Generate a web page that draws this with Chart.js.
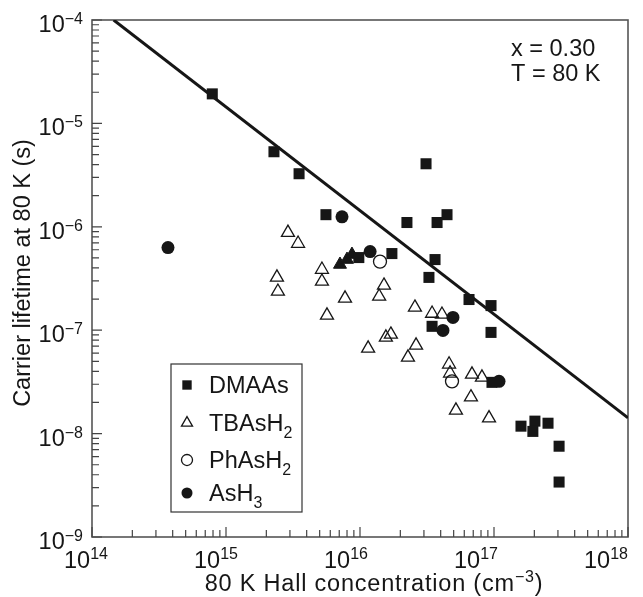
<!DOCTYPE html>
<html lang="en">
<head>
    <meta charset="UTF-8">
    <title>Carrier lifetime vs Hall concentration</title>
    <style>
        * { box-sizing: border-box; margin: 0; padding: 0; }
        body { background: #fff; width: 643px; height: 597px; overflow: hidden; }
        #wrap { position: relative; width: 643px; height: 597px; }
    </style>
    <script src="https://cdn.jsdelivr.net/npm/chart.js"></script>
</head>
<body>
    <div id="wrap"><canvas id="chart" width="643" height="597"></canvas></div>

    <script>
        // values (x: cm^-3, y: seconds)
        const dmaasX = [7.9e14, 2.28e15, 3.51e15, 5.57e15, 9.8e15, 1.73e16, 2.24e16, 3.11e16, 3.76e16, 4.46e16, 3.63e16, 3.27e16,
                        6.51e16, 9.5e16, 3.45e16, 9.5e16, 9.66e16, 1.59e17, 2.02e17, 1.95e17, 2.53e17, 3.06e17, 3.06e17];
        const dmaasY = [1.93e-5, 5.32e-6, 3.26e-6, 1.31e-6, 5.04e-7, 5.51e-7, 1.10e-6, 4.07e-6, 1.10e-6, 1.31e-6, 4.82e-7, 3.24e-7,
                        1.98e-7, 1.73e-7, 1.09e-7, 9.52e-8, 3.13e-8, 1.18e-8, 1.32e-8, 1.05e-8, 1.26e-8, 7.55e-9, 3.4e-9];

        const tbaX = [2.40e15, 2.44e15, 2.90e15, 3.45e15, 5.20e15, 5.20e15, 5.67e15, 7.73e15, 1.15e16, 1.39e16, 1.51e16, 1.56e16, 1.70e16,
                      2.28e16, 2.57e16, 2.62e16, 3.45e16, 4.09e16, 4.62e16, 4.70e16, 5.20e16, 6.73e16, 6.85e16, 8.13e16, 9.18e16];
        const tbaY = [3.24e-7, 2.37e-7, 8.79e-7, 6.89e-7, 3.86e-7, 2.96e-7, 1.39e-7, 2.03e-7, 6.68e-8, 2.12e-7, 2.71e-7, 8.53e-8, 9.10e-8,
                      5.46e-8, 1.66e-7, 7.13e-8, 1.45e-7, 1.42e-7, 4.68e-8, 3.83e-8, 1.68e-8, 2.25e-8, 3.74e-8, 3.50e-8, 1.41e-8];

        const phX = [1.41e16, 4.86e16];
        const phY = [4.61e-7, 3.20e-8];

        const ash3X = [3.69e14, 7.34e15, 1.19e16, 4.94e16, 4.16e16, 1.09e17];
        const ash3Y = [6.30e-7, 1.25e-6, 5.76e-7, 1.33e-7, 9.95e-8, 3.20e-8];

        // filled triangles (not in the legend)
        const solidTriX = [7.09e15, 8.0e15, 8.71e15];
        const solidTriY = [4.32e-7, 4.82e-7, 5.39e-7];

        // fitted line end points
        const fitX = [1.45e14, 1e18];
        const fitY = [1.0e-4, 1.42e-8];

        const xDecades = [14, 15, 16, 17, 18];
        const yDecades = [-4, -5, -6, -7, -8, -9];

        const legendNames = [['DMAAs', ''], ['TBAsH', '2'], ['PhAsH', '2'], ['AsH', '3']];
        const noteLines = ['x = 0.30', 'T = 80 K'];

        const INK = '#161616';
        const FONT = 'Liberation Sans, Arial, sans-serif';
        const BIG = 23.5;
        const SMALL = 16;

        const pts = (xs, ys) => xs.map((x, i) => ({ x: x, y: ys[i] }));

        // text with a raised or lowered small part
        function drawScript(ctx, x, y, base, script, shift, align, tail, spacing) {
            ctx.letterSpacing = spacing || '0px';
            ctx.font = BIG + 'px ' + FONT;
            const wb = ctx.measureText(base).width;
            const wt = tail ? ctx.measureText(tail).width : 0;
            ctx.font = SMALL + 'px ' + FONT;
            const ws = ctx.measureText(script).width;
            const total = wb + ws + wt;
            let x0 = x;
            if (align === 'right') x0 = x - total;
            else if (align === 'center') x0 = x - total / 2;
            ctx.textAlign = 'left';
            ctx.textBaseline = 'alphabetic';
            ctx.font = BIG + 'px ' + FONT;
            ctx.fillText(base, x0, y);
            ctx.font = SMALL + 'px ' + FONT;
            ctx.fillText(script, x0 + wb, y + shift);
            if (tail) {
                ctx.font = BIG + 'px ' + FONT;
                ctx.fillText(tail, x0 + wb + ws, y);
            }
            ctx.letterSpacing = '0px';
        }

        const decorPlugin = {
            id: 'decor',
            beforeDatasetsDraw(chart) {
                const ctx = chart.ctx;
                const a = chart.chartArea;
                const xs = chart.scales.x, ys = chart.scales.y;
                ctx.save();
                ctx.fillStyle = INK;

                // frame
                ctx.strokeStyle = '#555';
                ctx.lineWidth = 1.6;
                ctx.strokeRect(a.left, a.top, a.right - a.left, a.bottom - a.top);

                // inward ticks on left and bottom
                ctx.strokeStyle = '#444';
                ctx.lineWidth = 1.2;
                ctx.beginPath();
                for (let i = 0; i < xDecades.length; i++) {
                    const d = xDecades[i];
                    for (let m = 1; m <= 9; m++) {
                        if (m > 1 && d === 18) break;
                        const px = xs.getPixelForValue(m * Math.pow(10, d));
                        const len = m === 1 ? 10 : 7;
                        ctx.moveTo(px, a.bottom);
                        ctx.lineTo(px, a.bottom - len);
                    }
                }
                for (let i = 0; i < yDecades.length; i++) {
                    const d = yDecades[i];
                    for (let m = 1; m <= 9; m++) {
                        if (m > 1 && d === -4) break;
                        const py = ys.getPixelForValue(m * Math.pow(10, d));
                        const len = m === 1 ? 10 : 7;
                        ctx.moveTo(a.left, py);
                        ctx.lineTo(a.left + len, py);
                    }
                }
                ctx.stroke();

                // tick labels
                xDecades.forEach((d, i) => {
                    const px = xs.getPixelForValue(Math.pow(10, d));
                    drawScript(ctx, px - 6 - i * 4, a.bottom + 31, '10', String(d), -9, 'center');
                });
                yDecades.forEach(d => {
                    const py = ys.getPixelForValue(Math.pow(10, d));
                    drawScript(ctx, a.left - 9, py + 12, '10', '\u2212' + Math.abs(d), -8, 'right');
                });

                // axis titles
                drawScript(ctx, 374, 591, '80 K Hall concentration (cm', '\u22123', -9, 'center', ')', '0.8px');
                ctx.save();
                ctx.translate(30, 273);
                ctx.rotate(-Math.PI / 2);
                ctx.font = BIG + 'px ' + FONT;
                ctx.textAlign = 'center';
                ctx.fillText('Carrier lifetime at 80 K (s)', 0, 0);
                ctx.restore();

                // note in the top right corner
                ctx.font = BIG + 'px ' + FONT;
                ctx.textAlign = 'left';
                noteLines.forEach((t, i) => ctx.fillText(t, 511, 56 + i * 25));
                ctx.restore();
            },
            afterDatasetsDraw(chart) {
                const ctx = chart.ctx;
                ctx.save();
                // legend box
                ctx.fillStyle = '#fff';
                ctx.fillRect(171, 364, 131, 148);
                ctx.strokeStyle = '#333';
                ctx.lineWidth = 1.2;
                ctx.strokeRect(171, 364, 131, 148);
                const rows = [385, 423, 460, 493];
                const sets = chart.data.datasets;
                legendNames.forEach((n, i) => {
                    const ds = sets[i];
                    ctx.fillStyle = ds.backgroundColor;
                    ctx.strokeStyle = ds.borderColor;
                    ctx.lineWidth = ds.borderWidth;
                    Chart.helpers.drawPoint(ctx, {
                        pointStyle: ds.pointStyle,
                        radius: ds.pointRadius * 0.85,
                        borderWidth: ds.borderWidth,
                        rotation: 0
                    }, 187, rows[i]);
                    ctx.fillStyle = INK;
                    drawScript(ctx, 209, rows[i] + 8, n[0], n[1], 7, 'left');
                });
                ctx.restore();
            }
        };

        const ctx = document.getElementById('chart').getContext('2d');
        new Chart(ctx, {
            type: 'scatter',
            data: {
                datasets: [
                    { label: 'DMAAs', data: pts(dmaasX, dmaasY), pointStyle: 'rect', pointRadius: 7.8,
                      backgroundColor: INK, borderColor: INK, borderWidth: 0 },
                    { label: 'TBAsH2', data: pts(tbaX, tbaY), pointStyle: 'triangle', pointRadius: 7.5,
                      backgroundColor: 'rgba(255,255,255,0)', borderColor: INK, borderWidth: 1.3 },
                    { label: 'PhAsH2', data: pts(phX, phY), pointStyle: 'circle', pointRadius: 6.5,
                      backgroundColor: 'rgba(255,255,255,0)', borderColor: INK, borderWidth: 1.3 },
                    { label: 'AsH3', data: pts(ash3X, ash3Y), pointStyle: 'circle', pointRadius: 6.5,
                      backgroundColor: INK, borderColor: INK, borderWidth: 0 },
                    { label: 'solid', data: pts(solidTriX, solidTriY), pointStyle: 'triangle', pointRadius: 7.5,
                      backgroundColor: INK, borderColor: INK, borderWidth: 1 },
                    { label: 'fit', data: pts(fitX, fitY), showLine: true, pointRadius: 0,
                      borderColor: INK, borderWidth: 3, fill: false }
                ]
            },
            options: {
                responsive: false,
                animation: false,
                layout: { padding: { left: 92, top: 20, right: 15, bottom: 60 } },
                plugins: { legend: { display: false }, tooltip: { enabled: false } },
                scales: {
                    x: {
                        type: 'logarithmic', min: 1e14, max: 1e18,
                        grid: { display: false, drawTicks: false },
                        border: { display: false },
                        ticks: { display: false }
                    },
                    y: {
                        type: 'logarithmic', min: 1e-9, max: 1e-4,
                        grid: { display: false, drawTicks: false },
                        border: { display: false },
                        ticks: { display: false }
                    }
                }
            },
            plugins: [decorPlugin]
        });
    </script>
</body>
</html>
